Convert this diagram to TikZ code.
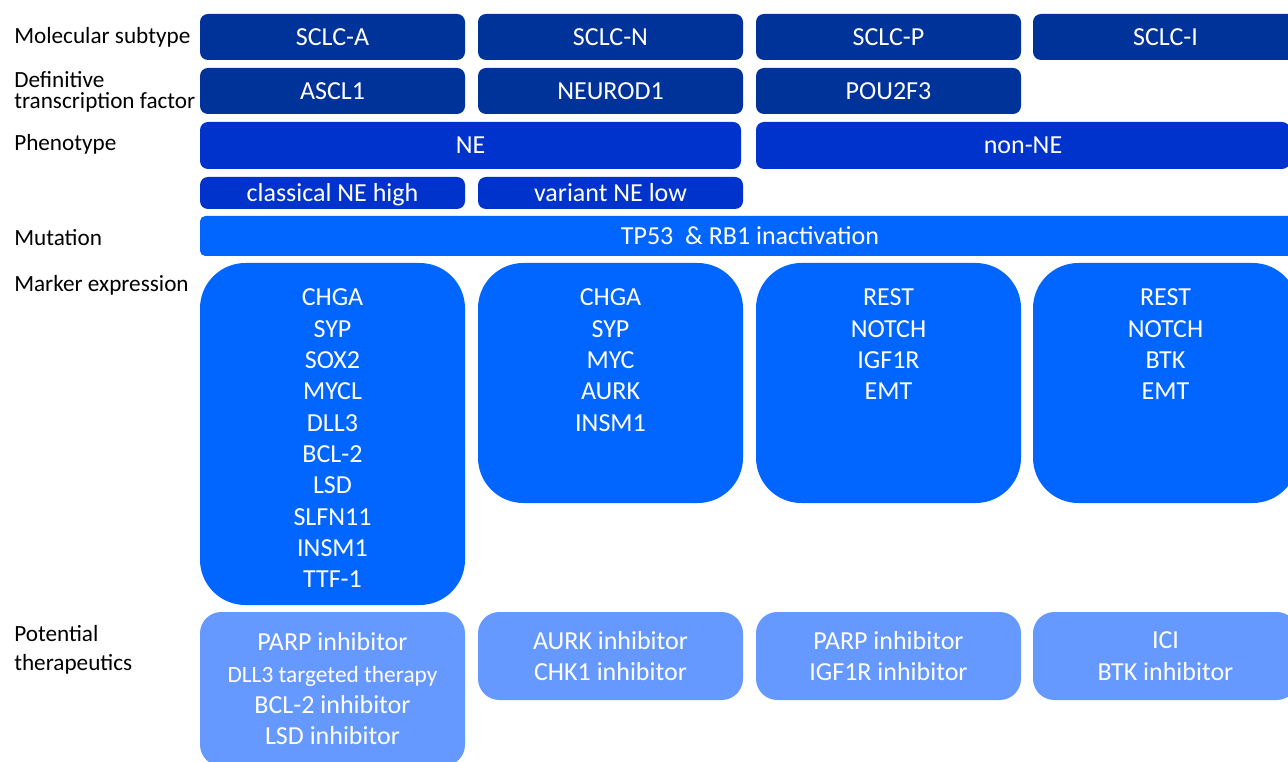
\documentclass[tikz,border=0pt]{standalone}
\usepackage{fontspec}
\setmainfont{Carlito}
\definecolor{cNavy}{HTML}{003399}
\definecolor{cPheno}{HTML}{0033CC}
\definecolor{cMark}{HTML}{0066FF}
\definecolor{cThera}{HTML}{6699FF}
\newcommand\mybox[7]{\node[#6, minimum width={(#4-#2)*0.75pt}, minimum height={(#5-#3)*0.75pt}] (#1) at ({(#2+#4)/2},{(#3+#5)/2}) {#7};}
\tikzset{
  base/.style={rectangle, inner sep=0pt, outer sep=0pt, text=white, font=\fontsize{19.5}{23.5}\selectfont},
  topbox/.style={base, rounded corners=6pt, fill=cNavy, text height=12.4pt, text depth=0pt},
  phenobox/.style={base, rounded corners=6pt, fill=cPheno, text height=12.4pt, text depth=0pt},
  mutbox/.style={base, rounded corners=4pt, fill=cMark, text height=12.4pt, text depth=0pt},
  markbox/.style={base, rounded corners=34pt, fill=cMark},
  therabox/.style={base, rounded corners=16pt, fill=cThera, align=center},
  mtext/.style={base, align=center, anchor=north},
  lbl/.style={inner sep=0pt, anchor=base west, font=\fontsize{17.4}{15}\selectfont, text=black},
}
\begin{document}
\begin{tikzpicture}[x=0.75pt,y=-0.75pt]
\useasboundingbox (0,0) rectangle (1288,762);
\clip (0,0) rectangle (1288,762);
% left labels
\node[lbl] (l1) at (14,43.5) {Molecular subtype};
\node[lbl] (l2a) at (14,88) {Definitive};
\node[lbl] (l2b) at (14,108.5) {transcription factor};
\node[lbl] (l3) at (14,150.5) {Phenotype};
\node[lbl] (l4) at (14,245.5) {Mutation};
\node[lbl] (l5) at (14,292) {Marker expression};
\node[lbl] (l6a) at (14,641) {Potential};
\node[lbl] (l6b) at (14,670) {therapeutics};
% row 1
\mybox{a1}{200}{14}{465}{60}{topbox}{SCLC-A}
\mybox{n1}{478}{14}{743}{60}{topbox}{SCLC-N}
\mybox{p1}{756}{14}{1021}{60}{topbox}{SCLC-P}
\mybox{i1}{1033}{14}{1298}{60}{topbox}{SCLC-I}
% row 2
\mybox{a2}{200}{68}{465}{114}{topbox}{ASCL1}
\mybox{n2}{478}{68}{743}{114}{topbox}{NEUROD1}
\mybox{p2}{756}{68}{1021}{114}{topbox}{POU2F3}
% row 3
\mybox{ne}{200}{122}{741}{169}{phenobox}{NE}
\mybox{nonne}{756}{122}{1290}{169}{phenobox}{non-NE}
% row 4
\mybox{cl}{200}{177}{465}{209}{phenobox}{classical NE high}
\mybox{va}{478}{177}{743}{209}{phenobox}{variant NE low}
% row 5
\mybox{mut}{200}{216}{1300}{256}{mutbox}{TP53\ \ \& RB1 inactivation}
% row 6 markers
\mybox{ma}{200}{263}{465}{605}{markbox}{}
\mybox{mn}{478}{263}{743}{503}{markbox}{}
\mybox{mp}{756}{263}{1021}{503}{markbox}{}
\mybox{mi}{1033}{263}{1298}{503}{markbox}{}
\node[mtext, yshift=-19.5pt] (mat) at (ma.north) {CHGA\\SYP\\SOX2\\MYCL\\DLL3\\BCL-2\\LSD\\SLFN11\\INSM1\\TTF-1};
\node[mtext, yshift=-19.5pt] (mnt) at (mn.north) {CHGA\\SYP\\MYC\\AURK\\INSM1};
\node[mtext, yshift=-19.5pt] (mpt) at (mp.north) {REST\\NOTCH\\IGF1R\\EMT};
\node[mtext, yshift=-19.5pt] (mit) at (mi.north) {REST\\NOTCH\\BTK\\EMT};
% row 7 therapeutics
\mybox{ta}{200}{612}{465}{766}{therabox}{}
\node[mtext, yshift=-15.5pt] (tat) at (ta.north) {PARP inhibitor\\{\fontsize{17.5}{23.5}\selectfont DLL3 targeted therapy}\\BCL-2 inhibitor\\LSD inhibitor};
\mybox{tn}{478}{612}{743}{700}{therabox}{AURK inhibitor\\CHK1 inhibitor}
\mybox{tp}{756}{612}{1021}{700}{therabox}{PARP inhibitor\\IGF1R inhibitor}
\mybox{ti}{1033}{612}{1298}{700}{therabox}{ICI\\BTK inhibitor}
\end{tikzpicture}
\end{document}
